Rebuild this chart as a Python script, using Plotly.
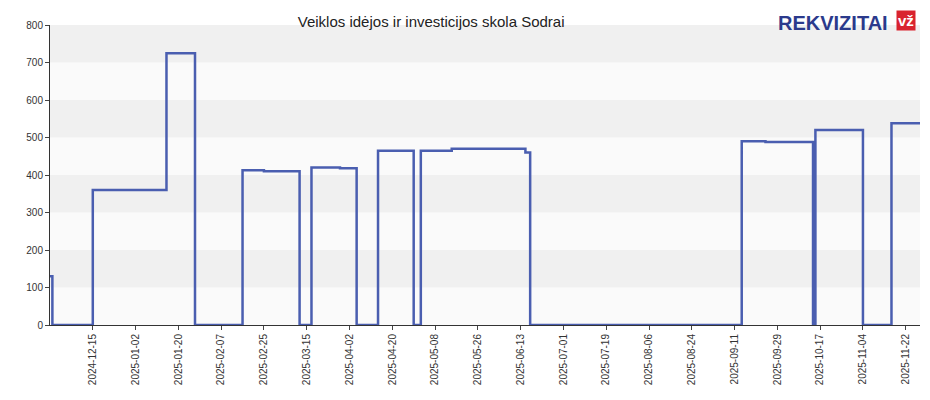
import plotly.graph_objects as go

dates = ["2024-11-27","2024-11-28","2024-12-15","2025-01-15","2025-01-27","2025-02-16","2025-02-25",
         "2025-03-12","2025-03-17","2025-03-29","2025-04-05","2025-04-14","2025-04-29","2025-05-02",
         "2025-05-15","2025-06-15","2025-06-17","2025-09-14","2025-09-24","2025-10-14","2025-10-15",
         "2025-11-04","2025-11-16","2025-11-28"]
values = [130,0,360,725,0,413,410,0,420,418,0,465,0,465,470,460,0,490,488,0,520,0,538,538]
tickvals = ["2024-12-15","2025-01-02","2025-01-20","2025-02-07","2025-02-25","2025-03-15","2025-04-02",
            "2025-04-20","2025-05-08","2025-05-26","2025-06-13","2025-07-01","2025-07-19","2025-08-06",
            "2025-08-24","2025-09-11","2025-09-29","2025-10-17","2025-11-04","2025-11-22"]

fig = go.Figure(go.Scatter(x=dates, y=values, mode="lines", line_shape="hv",
                           line=dict(color="#4a5eb0", width=2.5)))
shapes = []
for i in range(8):
    shapes.append(dict(type="rect", xref="paper", yref="y", x0=0, x1=1, y0=i*100, y1=(i+1)*100,
                       fillcolor="#f0f0f0" if i % 2 == 1 else "#fafafa", line_width=0, layer="below"))
fig.update_layout(
    width=930, height=400, margin=dict(l=42, r=18, t=17, b=83, autoexpand=False),
    plot_bgcolor="white", paper_bgcolor="white", shapes=shapes, showlegend=False,
    font=dict(family="Arial, Liberation Sans", size=10, color="#333"),
    title=dict(text="Veiklos idėjos ir investicijos skola Sodrai", x=0.455, xanchor="center",
               y=0.965, yanchor="middle", font=dict(size=15, color="#222")),
    xaxis=dict(range=["2024-11-27","2025-11-28"], tickvals=tickvals, ticktext=tickvals,
               tickangle=-90, showgrid=False, ticks="outside", ticklen=4, linecolor="#333",
               automargin=False),
    yaxis=dict(range=[0,800], dtick=100, showgrid=False, ticks="outside", ticklen=4,
               linecolor="#333", zeroline=False, automargin=False),
    annotations=[dict(text="<b>REKVIZITAI</b>", xref="paper", yref="paper", x=0.965, y=1.05,
                      xanchor="right", yanchor="top", showarrow=False,
                      font=dict(size=20, color="#2b3a8c")),
                 dict(text="<b>vž</b>", xref="paper", yref="paper", x=0.995, y=1.05, xanchor="right",
                      yanchor="top", showarrow=False, bgcolor="#d9232e",
                      font=dict(size=15, color="white"))],
)
fig.write_html("out.html")
